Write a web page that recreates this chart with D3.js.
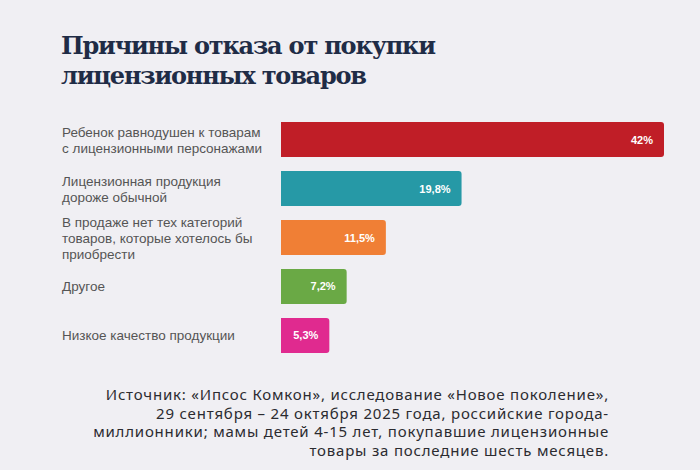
<!DOCTYPE html>
<html lang="ru">
	<head>
		<meta charset="utf-8">
		<title>Причины отказа от покупки лицензионных товаров</title>
		<script src="https://d3js.org/d3.v7.min.js"></script>
		<style type="text/css">
			body { margin: 0; background: #f0eff3; }
		</style>
	</head>
	<body>
<div id="chart"></div>
		<script type="text/javascript">
// Data
var categories = [
  ["Ребенок равнодушен к товарам", "с лицензионными персонажами"],
  ["Лицензионная продукция", "дороже обычной"],
  ["В продаже нет тех категорий", "товаров, которые хотелось бы", "приобрести"],
  ["Другое"],
  ["Низкое качество продукции"]
];
var values = [42, 19.8, 11.5, 7.2, 5.3];
var valueLabels = ["42%", "19,8%", "11,5%", "7,2%", "5,3%"];
var colors = ["#c01e27", "#2699a6", "#f07f35", "#6aa945", "#e02a8f"];

var titleLines = ["Причины отказа от покупки", "лицензионных товаров"];
var sourceLines = [
  "Источник: «Ипсос Комкон», исследование «Новое поколение»,",
  "29 сентября – 24 октября 2025 года, российские города-",
  "миллионники; мамы детей 4-15 лет, покупавшие лицензионные",
  "товары за последние шесть месяцев."
];

//Width and height
var w = 700;
var h = 470;

var svg = d3.select("#chart")
  .append("svg")
  .attr("width", w)
  .attr("height", h);

svg.append("rect")
  .attr("width", w)
  .attr("height", h)
  .attr("fill", "#f0eff3");

// Title
svg.append("g")
  .selectAll("text")
  .data(titleLines)
  .enter()
  .append("text")
  .attr("x", 61)
  .attr("y", (d, i) => 54 + i * 30)
  .attr("fill", "#1f2c46")
  .style("font-family", "'DejaVu Serif', 'Liberation Serif', serif")
  .style("font-weight", "bold")
  .style("font-size", "24px")
  .style("letter-spacing", "-1.2px")
  .text(d => d);

//Scales
var idx = d3.range(values.length);
var xScale = d3.scaleLinear()
  .domain([0, 42])
  .range([281, 664]);

var yScale = d3.scaleBand()
  .domain(idx)
  .range([108, 367])
  .padding(0.286);

var bw = yScale.bandwidth();

// right-rounded bar path
function barPath(x0, x1, y0, hh, r) {
  return "M" + x0 + "," + y0 +
    "H" + (x1 - r) +
    "Q" + x1 + "," + y0 + " " + x1 + "," + (y0 + r) +
    "V" + (y0 + hh - r) +
    "Q" + x1 + "," + (y0 + hh) + " " + (x1 - r) + "," + (y0 + hh) +
    "H" + x0 + "Z";
}

svg.append("g")
  .selectAll("path")
  .data(idx)
  .enter()
  .append("path")
  .attr("d", i => barPath(xScale(0), xScale(values[i]), yScale(i), bw, 3))
  .attr("fill", i => colors[i]);

// Value labels
svg.append("g")
  .selectAll("text")
  .data(idx)
  .enter()
  .append("text")
  .attr("x", i => xScale(values[i]) - 11)
  .attr("y", i => yScale(i) + bw / 2 + 4)
  .attr("text-anchor", "end")
  .attr("fill", "#ffffff")
  .style("font-family", "'Liberation Sans', Arial, sans-serif")
  .style("font-weight", "bold")
  .style("font-size", "11px")
  .text(i => valueLabels[i]);

// Category labels
var lh = 16;
var labels = svg.append("g")
  .selectAll("text")
  .data(idx)
  .enter()
  .append("text")
  .attr("fill", "#555555")
  .style("font-family", "'Liberation Sans', Arial, sans-serif")
  .style("font-size", "13.5px");

labels.each(function (i) {
  var lines = categories[i];
  var cy = yScale(i) + bw / 2;
  var top = cy - (lines.length - 1) * lh / 2 + 5;
  d3.select(this).selectAll("tspan")
    .data(lines)
    .enter()
    .append("tspan")
    .attr("x", 62)
    .attr("y", (d, j) => top + j * lh)
    .text(d => d);
});

// Source note
svg.append("g")
  .selectAll("text")
  .data(sourceLines)
  .enter()
  .append("text")
  .attr("x", 609)
  .attr("y", (d, i) => 400 + i * 18.7)
  .attr("text-anchor", "end")
  .attr("fill", "#2b2b30")
  .style("font-family", "'Noto Sans', sans-serif")
  .style("font-size", "15px")
  .style("letter-spacing", "0.8px")
  .text(d => d);
		</script>
	</body>
</html>
